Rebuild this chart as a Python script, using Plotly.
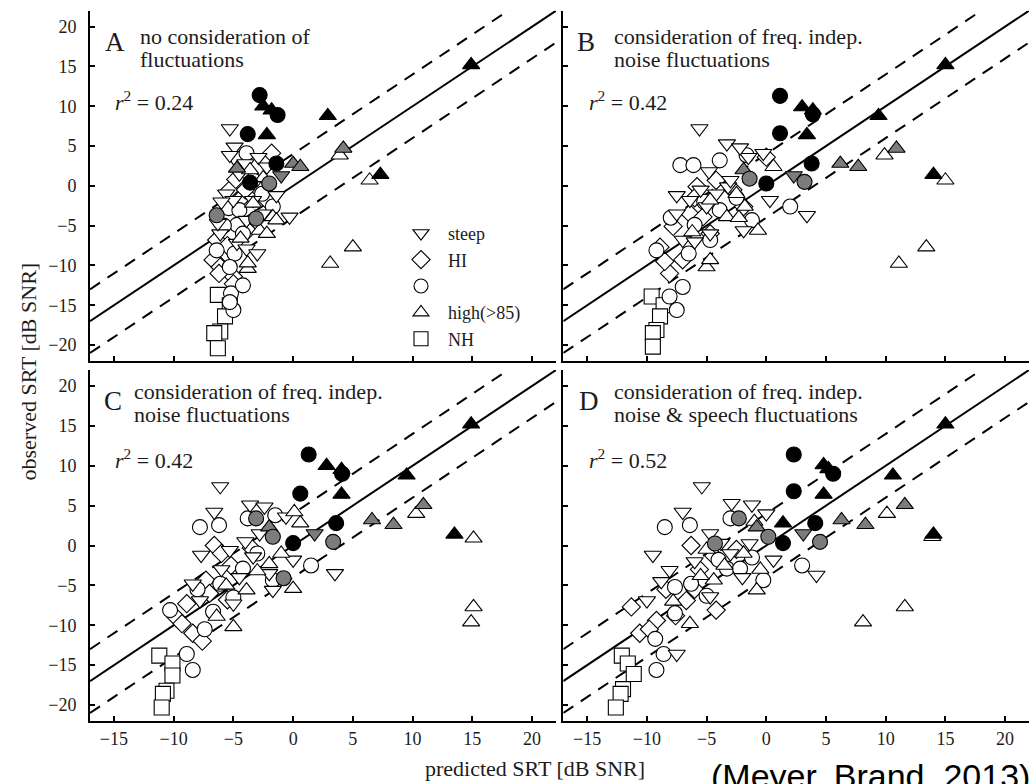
import plotly.graph_objects as go

W, H = 1032, 784

X_RANGE = [-17, 22]
Y_RANGE = [-22, 22]
X_TICKS = [-15, -10, -5, 0, 5, 10, 15, 20]
Y_TICKS = [-20, -15, -10, -5, 0, 5, 10, 15, 20]

REF_X = [-17, 22]          # extent of identity / tolerance lines
BAND = 4                   # +/- tolerance band in dB

PANEL_LETTERS = ["A", "B", "C", "D"]
PANEL_TITLES = [
    ["no consideration of", "fluctuations"],
    ["consideration of freq. indep.", "noise fluctuations"],
    ["consideration of freq. indep.", "noise fluctuations"],
    ["consideration of freq. indep.", "noise & speech fluctuations"],
]
R2_VALUES = ["0.24", "0.42", "0.42", "0.52"]

LEGEND_NAMES = ["steep", "HI", "", "high(>85)", "NH"]

# (predicted, observed) SRT pairs in dB SNR, per panel and listener group
# ---- Panel A
a_nh = [(-6.3, -13.7), (-5.3, -15.0), (-5.7, -16.4), (-6.1, -18.3), (-6.6, -18.5), (-6.3, -20.4)]
a_hi = [(-5.3, -0.5), (-6.7, -9.3), (-5.0, -11.4), (-5.0, -12.3), (-6.1, -10.2), (-1.8, 4.1),
        (-4.5, -1.8), (-6.4, -6.8), (-3.1, -0.1), (-5.6, -8.5), (-3.8, -5.6), (-2.2, -1.8),
        (-4.0, -0.5), (-5.5, -7.5), (-6.2, -11.0), (-4.8, 0.8)]
a_mid = [(-4.6, 3.4), (-3.9, 4.1), (-5.4, -2.8), (-4.5, -3.05), (-1.7, -2.6), (-4.7, -4.9),
         (-6.4, -8.1), (-4.9, -8.5), (-5.2, -13.5), (-5.0, -15.6), (-5.3, -14.6), (-3.35, 0.7),
         (-5.3, -10.2), (-4.2, -6.0), (-5.8, -5.0), (-4.2, -12.5), (-2.6, -1.0)]
a_steep = [(-5.3, 7.2), (-4.9, 4.9), (-5.3, 3.85), (-2.9, 3.6), (-2.2, 2.4), (-5.6, -1.0),
           (-0.3, -3.9), (-3.9, -4.3), (-6.1, -6.0), (-4.7, -7.2), (-3.9, -7.9), (-3.35, -1.8),
           (-1.4, -1.2), (-6.3, -4.7), (-4.5, 1.5), (-2.5, -3.5), (-5.0, -1.8), (-6.0, -2.0),
           (-3.0, -8.5), (-4.0, 2.8)]
a_high = [(3.9, 3.85), (6.4, 0.7), (3.1, -9.75), (5.0, -7.7), (-3.35, -2.2), (-2.8, -5.6),
          (-1.7, -3.9), (-3.8, -10.4), (-3.8, -9.7), (-2.2, -6.0), (-3.6, 2.0), (-1.4, -4.3),
          (-2.5, 1.0), (-4.4, -6.6)]
a_high_gray = [(-4.7, 2.2), (0.0, 2.8), (0.6, 2.4), (4.2, 4.7)]
a_steep_gray = [(-1.0, 1.3)]
a_mid_gray = [(-2.0, 0.3), (-6.4, -3.7), (-3.1, -4.1)]
a_mid_black = [(-2.8, 11.4), (-1.3, 8.9), (-3.8, 6.5), (-1.4, 2.8), (-3.6, 0.4)]
a_high_black = [(14.9, 15.2), (-2.5, 10.0), (-1.8, 9.5), (2.9, 8.8), (-2.2, 6.4), (7.3, 1.4)]

# ---- Panel B
b_nh = [(-9.6, -13.9), (-8.6, -15.0), (-8.9, -16.4), (-9.2, -18.1), (-9.5, -18.5), (-9.5, -20.2)]
b_hi = [(-5.8, -0.1), (-6.4, -3.5), (-7.8, -5.1), (-8.9, -7.7), (-8.1, -11.0), (-4.2, 0.7),
        (-4.7, -6.0), (0.0, 3.6), (-1.9, -2.6), (-7.0, -9.3), (-5.3, -3.9), (-8.5, -9.5),
        (-2.8, -0.5), (-6.0, -1.5)]
b_mid = [(-3.9, 3.2), (-1.65, 3.85), (-7.2, 2.6), (-6.1, 2.6), (-3.9, -3.05), (-6.0, -4.9),
         (2.0, -2.6), (-1.2, -4.3), (-9.2, -8.1), (-6.5, -8.5), (-7.0, -12.7), (-7.5, -15.6),
         (-8.1, -13.9), (-4.7, -6.8), (-8.0, -4.0), (-2.5, -1.5), (-5.2, -2.0)]
b_steep = [(-5.6, 7.2), (-3.3, 5.3), (-1.5, 3.6), (-0.25, 4.1), (-7.5, -1.2), (-6.4, -1.8),
           (-4.2, -1.0), (-5.0, -2.6), (-3.2, -0.1), (0.3, -1.8), (3.4, -3.7), (-7.5, -3.5),
           (-4.7, -6.0), (-7.0, -6.8), (-1.9, -5.6), (-3.0, 0.7), (-6.0, -7.0), (-5.5, -0.5),
           (-2.2, 4.8), (-4.8, 1.8)]
b_high = [(-4.7, -1.8), (-0.7, -5.6), (-1.8, -2.6), (-5.0, -10.2), (-2.5, -1.0), (0.6, 2.4),
          (11.1, -9.75), (13.4, -7.7), (9.9, 3.85), (15.0, 0.7), (-4.7, -9.3), (-3.3, -3.9),
          (-2.3, -4.0), (-6.2, -5.8)]
b_high_gray = [(-1.9, 2.0), (6.2, 2.8), (7.7, 2.4), (10.9, 4.7)]
b_steep_gray = [(2.3, 1.3)]
b_mid_gray = [(3.2, 0.5), (-1.4, 0.9)]
b_mid_black = [(1.15, 11.3), (3.9, 9.0), (1.15, 6.6), (3.8, 2.8), (0.0, 0.3)]
b_high_black = [(15.0, 15.2), (3.0, 9.9), (3.9, 9.5), (9.4, 8.8), (3.4, 6.4), (14.0, 1.4)]

# ---- Panel C
c_nh = [(-11.2, -13.8), (-10.1, -14.8), (-10.1, -16.3), (-10.6, -18.2), (-10.9, -18.6), (-11.0, -20.3)]
c_hi = [(-6.6, 0.0), (-7.3, -4.35), (-8.9, -7.3), (-9.8, -9.0), (-8.4, -11.0), (-6.0, -1.0),
        (-3.5, -0.3), (-5.5, -6.8), (-9.3, -9.8), (-7.6, -12.0), (-4.5, -3.5), (-7.0, -6.0),
        (-5.2, -2.5)]
c_mid = [(-7.8, 2.3), (-6.2, 2.55), (-3.8, 3.4), (-1.5, 3.8), (-4.2, -2.9), (-6.1, -4.8),
         (-6.7, -8.3), (-10.3, -8.1), (-8.4, -15.6), (-8.9, -13.6), (-1.7, -4.35), (1.5, -2.5),
         (-5.0, -6.5), (-7.4, -10.5), (-3.0, -1.0), (-8.0, -5.5)]
c_steep = [(-6.1, 7.4), (-6.6, 4.2), (-3.6, 5.1), (-2.4, 4.85), (-0.6, 3.6), (-7.7, -1.2),
           (-8.4, -4.8), (-7.8, -6.9), (-5.0, -7.3), (-1.7, -5.6), (3.5, -3.5), (-3.35, -1.4),
           (-5.3, -0.6), (0.0, -1.8), (-2.8, 1.5), (-4.5, -4.0), (-6.0, -3.0), (-4.0, 0.5),
           (-2.0, -3.5)]
c_high = [(0.1, 4.2), (0.6, 2.8), (-5.0, -10.2), (0.0, -5.4), (-2.0, -2.3), (-3.9, -5.6),
          (10.3, 4.0), (15.1, 0.9), (14.9, -9.6), (15.1, -7.7), (-3.0, -3.2), (-6.4, -8.9),
          (-1.0, -1.0), (-5.6, -5.0)]
c_high_gray = [(-2.0, 2.3), (6.6, 3.2), (8.4, 2.6), (10.9, 5.1)]
c_steep_gray = [(1.8, 1.5)]
c_mid_gray = [(3.35, 0.46), (-1.7, 1.1), (-0.8, -4.1), (-3.1, 3.4)]
c_mid_black = [(1.3, 11.4), (4.1, 9.0), (0.6, 6.5), (3.6, 2.8), (0.0, 0.3)]
c_high_black = [(14.9, 15.2), (2.8, 10.0), (4.05, 9.5), (9.5, 8.8), (4.05, 6.4), (13.5, 1.4)]

# ---- Panel D
d_nh = [(-12.1, -13.8), (-11.6, -14.8), (-11.1, -16.1), (-12.0, -18.0), (-12.2, -18.6), (-12.6, -20.3)]
d_hi = [(-6.3, 0.0), (-11.3, -7.7), (-10.6, -11.0), (-4.2, -8.1), (-9.2, -9.4), (-6.7, -6.9),
        (-4.4, -1.3), (-8.4, -5.5), (-5.6, -3.0), (-9.8, -10.5), (-7.6, -8.8), (-2.5, -0.5),
        (-6.0, -5.5)]
d_mid = [(-8.5, 2.3), (-6.4, 2.55), (-3.0, 3.4), (-3.3, -2.9), (-2.2, -2.9), (-6.3, -4.8),
         (-7.65, -5.2), (-7.65, -8.5), (-9.2, -15.6), (-8.6, -13.6), (-0.25, -4.35), (3.0, -2.5),
         (-9.3, -11.7), (-5.0, -6.3), (-1.2, -1.5), (-4.0, -1.8)]
d_steep = [(-5.4, 7.4), (-7.0, 4.2), (-2.9, 5.3), (-1.2, 5.1), (0.0, 4.0), (-9.5, -1.2),
           (-10.0, -6.9), (-7.5, -13.6), (-4.7, -6.4), (4.2, -3.7), (0.6, -1.8), (-1.4, 0.25),
           (-4.7, 1.5), (-8.1, -3.1), (-3.0, -1.0), (-6.0, -2.0), (-8.8, -4.5), (-3.8, 0.3),
           (-2.0, -4.0)]
d_high = [(-6.4, -9.8), (-0.8, -5.6), (-4.4, -4.35), (-1.9, -1.0), (8.1, -9.6), (11.6, -7.7),
          (10.1, 4.0), (13.9, 1.1), (-1.0, 3.0), (-7.8, -7.0), (-5.5, -3.8), (-3.5, -2.5),
          (-0.5, -3.0), (-5.0, -0.5)]
d_high_gray = [(-0.8, 2.3), (6.3, 3.2), (8.3, 2.6), (11.6, 5.1)]
d_steep_gray = [(3.1, 1.5)]
d_mid_gray = [(4.5, 0.46), (0.17, 1.1), (-4.3, 0.25), (-2.3, 3.4)]
d_mid_black = [(2.3, 11.4), (5.6, 9.0), (2.3, 6.8), (4.1, 2.8), (1.4, 0.3)]
d_high_black = [(15.0, 15.2), (4.8, 10.1), (5.2, 9.6), (10.6, 8.8), (4.8, 6.4), (14.0, 1.4), (1.4, 2.8)]

PANELS = [
    dict(nh=a_nh, hi=a_hi, mid=a_mid, steep=a_steep, high=a_high, high_gray=a_high_gray,
         steep_gray=a_steep_gray, mid_gray=a_mid_gray, mid_black=a_mid_black, high_black=a_high_black),
    dict(nh=b_nh, hi=b_hi, mid=b_mid, steep=b_steep, high=b_high, high_gray=b_high_gray,
         steep_gray=b_steep_gray, mid_gray=b_mid_gray, mid_black=b_mid_black, high_black=b_high_black),
    dict(nh=c_nh, hi=c_hi, mid=c_mid, steep=c_steep, high=c_high, high_gray=c_high_gray,
         steep_gray=c_steep_gray, mid_gray=c_mid_gray, mid_black=c_mid_black, high_black=c_high_black),
    dict(nh=d_nh, hi=d_hi, mid=d_mid, steep=d_steep, high=d_high, high_gray=d_high_gray,
         steep_gray=d_steep_gray, mid_gray=d_mid_gray, mid_black=d_mid_black, high_black=d_high_black),
]

WHITE, GRAY, BLACK = "#ffffff", "#7c7c7c", "#000000"
INK = "#1c1c1c"
SERIF = "Liberation Serif, Times New Roman, serif"

# symbol, fill, size for every group (drawing order = list order)
STYLES = [
    ("nh", "square", WHITE, 15),
    ("hi", "diamond", WHITE, 14),
    ("mid", "circle", WHITE, 15),
    ("steep", "triangle-down", WHITE, 15),
    ("high", "triangle-up", WHITE, 15),
    ("high_gray", "triangle-up", GRAY, 15),
    ("steep_gray", "triangle-down", GRAY, 15),
    ("mid_gray", "circle", GRAY, 15),
    ("mid_black", "circle", BLACK, 15),
    ("high_black", "triangle-up", BLACK, 15),
]


def px_x(p):
    return p / W


def px_y(p):
    return 1 - p / H


# panel frames in pixels: (left, right, top, bottom)
FRAMES = [(90, 556, 10.7, 361), (563.3, 1029, 10.7, 361),
          (90, 556, 370, 721), (563.3, 1029, 370, 721)]

fig = go.Figure()

for i, (panel, frame) in enumerate(zip(PANELS, FRAMES)):
    sfx = "" if i == 0 else str(i + 1)
    xa, ya = "x" + sfx, "y" + sfx

    ref_y = list(REF_X)
    fig.add_trace(go.Scatter(x=REF_X, y=ref_y, mode="lines", xaxis=xa, yaxis=ya,
                             line=dict(color=BLACK, width=2), showlegend=False, hoverinfo="skip"))
    for sign in (1, -1):
        fig.add_trace(go.Scatter(x=REF_X, y=[v + sign * BAND for v in REF_X], mode="lines",
                                 xaxis=xa, yaxis=ya,
                                 line=dict(color=BLACK, width=2, dash="12px,9px"),
                                 showlegend=False, hoverinfo="skip"))

    for key, sym, fill, size in STYLES:
        pts = panel[key]
        fig.add_trace(go.Scatter(
            x=[p[0] for p in pts], y=[p[1] for p in pts], mode="markers",
            xaxis=xa, yaxis=ya, showlegend=False, cliponaxis=False,
            marker=dict(symbol=sym, size=size, color=fill, line=dict(color=BLACK, width=1.1)),
        ))

    left, right, top, bottom = frame
    common = dict(showline=True, linecolor=BLACK, linewidth=2, ticks="inside", ticklen=5,
                  tickwidth=1.5, tickcolor=BLACK, showgrid=False, zeroline=False,
                  tickfont=dict(family=SERIF, size=18, color=INK), fixedrange=True)
    fig.update_layout({
        "xaxis" + sfx: dict(common, domain=[px_x(left), px_x(right)], range=X_RANGE,
                            tickvals=X_TICKS, showticklabels=i >= 2, anchor=ya,
                            ticklabelstandoff=0),
        "yaxis" + sfx: dict(common, domain=[px_y(bottom), px_y(top)], range=Y_RANGE,
                            tickvals=Y_TICKS, showticklabels=i in (0, 2), anchor=xa,
                            ticklabelstandoff=8),
    })

# legend entries (open symbols)
for name, sym in zip(LEGEND_NAMES, ["triangle-down", "diamond", "circle", "triangle-up", "square"]):
    fig.add_trace(go.Scatter(x=[None], y=[None], mode="markers", name=name, showlegend=True,
                             marker=dict(symbol=sym, size=14, color=WHITE,
                                         line=dict(color=BLACK, width=1.1))))

annotations = []
LETTER_POS = [(102.7, 42.4), (575, 42.4), (102, 400.7), (576.7, 400.7)]
TITLE_POS = [(138.3, 36, 59.4), (611.7, 36, 59.4), (132.3, 391, 414.5), (611.7, 391, 414.5)]
R2_POS = [(113, 100.8), (586.7, 100.8), (113, 458.5), (586.7, 458.5)]
for i in range(4):
    lx, ly = LETTER_POS[i]
    annotations.append(dict(text=PANEL_LETTERS[i], x=px_x(lx), y=px_y(ly), xref="paper", yref="paper",
                            xanchor="left", yanchor="middle", showarrow=False,
                            font=dict(family=SERIF, size=27, color=INK)))
    tx, t1, t2 = TITLE_POS[i]
    for line, ty in zip(PANEL_TITLES[i], (t1, t2)):
        annotations.append(dict(text=line, x=px_x(tx), y=px_y(ty), xref="paper", yref="paper",
                                xanchor="left", yanchor="middle", showarrow=False,
                                font=dict(family=SERIF, size=22, color=INK)))
    rx, ry = R2_POS[i]
    annotations.append(dict(text="<i>r</i><sup>2</sup> = " + R2_VALUES[i], x=px_x(rx), y=px_y(ry),
                            xref="paper", yref="paper", xanchor="left", yanchor="middle",
                            showarrow=False, font=dict(family=SERIF, size=22, color=INK)))

annotations.append(dict(text="observed SRT [dB SNR]", textangle=-90, x=px_x(28), y=px_y(371.5),
                        xref="paper", yref="paper", xanchor="center", yanchor="middle",
                        showarrow=False, font=dict(family=SERIF, size=22, color=INK)))
annotations.append(dict(text="predicted SRT [dB SNR]", x=px_x(535), y=px_y(768),
                        xref="paper", yref="paper", xanchor="center", yanchor="middle",
                        showarrow=False, font=dict(family=SERIF, size=22, color=INK)))
# citation sits on the bottom edge of the figure
annotations.append(dict(text="(Meyer, Brand, 2013)", x=px_x(709), y=px_y(755),
                        xref="paper", yref="paper", xanchor="left", yanchor="top",
                        showarrow=False,
                        font=dict(family="Liberation Sans, Arial, sans-serif",
                                  size=34, color=BLACK)))

fig.update_layout(
    width=W, height=H, margin=dict(l=0, r=0, t=0, b=0),
    paper_bgcolor="white", plot_bgcolor="white",
    annotations=annotations,
    showlegend=True,
    legend=dict(x=px_x(394), y=px_y(215), xanchor="left", yanchor="top",
                bgcolor="rgba(0,0,0,0)", borderwidth=0, itemwidth=44,
                font=dict(family=SERIF, size=18, color=INK), tracegroupgap=0),
)

fig.write_html("out.html")
